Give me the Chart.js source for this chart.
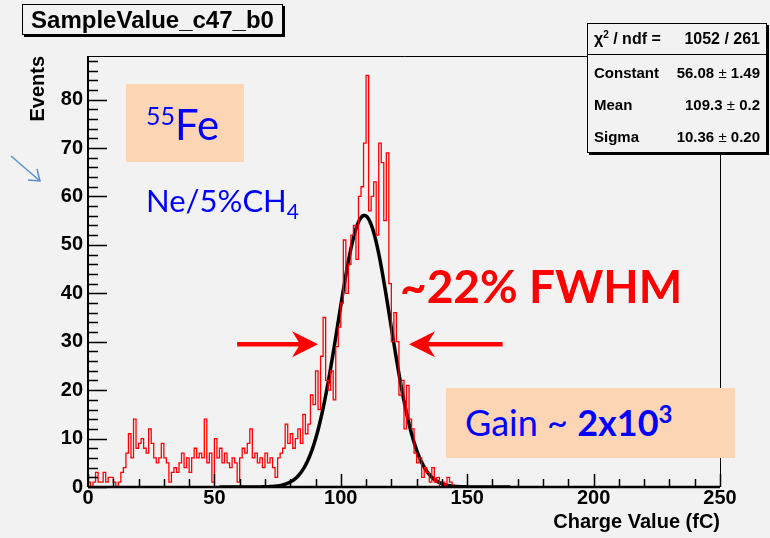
<!DOCTYPE html>
<html>
<head>
<meta charset="utf-8">
<script src="https://cdn.jsdelivr.net/npm/chart.js@4/dist/chart.umd.min.js"></script>
<style>
  body { margin: 0; background: #f2f2f2; }
  #wrap { position: relative; width: 770px; height: 538px; overflow: hidden; background: #f2f2f2; }
  #graph { position: absolute; left: 0; top: 0; }
  .root { position: absolute; font-family: "Liberation Sans", Arial, sans-serif; font-weight: bold; color: #000; }
  #title-box { left: 22px; top: 4px; width: 259px; height: 29px; border: 1px solid #000; box-shadow: 2px 2px 0 #000;
    background: #f2f2f2; font-size: 24px; line-height: 30px; text-align: center; }
  #stat-box { left: 587px; top: 23px; width: 178px; height: 128px; border: 1px solid #000; box-shadow: 2px 2px 0 #000;
    background: #f2f2f2; font-size: 15px; }
  #stat-box .sep { position: absolute; left: 0; right: 0; top: 30px; border-top: 1px solid #000; }
  .stat-row { position: absolute; left: 6px; right: 6px; display: flex; justify-content: space-between; line-height: 16px; }
  .slide { position: absolute; font-family: Lato, "Open Sans", sans-serif; color: #0000ff; white-space: nowrap; }
  .tan { position: absolute; background: #fcd5b4; }
  sup, sub { line-height: 0; }
  #overlay { position: absolute; left: 0; top: 0; }
</style>
</head>
<body>
<div id="wrap">
  <canvas id="graph" width="770" height="538"></canvas>

  <!-- ヒストグラム名 -->
  <div id="title-box" class="root"></div>

  <!-- フィット結果 -->
  <div id="stat-box" class="root">
    <div class="sep"></div>
  </div>

  <!-- 注記 -->
  <div class="tan" style="left:126px; top:84px; width:118px; height:78px;"></div>
  <div class="slide" style="left:146px; top:99px; font-size:42px;"><sup style="font-size:25px;">55</sup>Fe</div>
  <div class="slide" style="left:146px; top:181px; font-size:31px;">Ne/5%CH<sub style="font-size:21px;">4</sub></div>
  <div class="slide" style="left:400px; top:258px; font-size:46px; font-weight:bold; color:#ff0000;">~22% FWHM</div>
  <div class="tan" style="left:446px; top:388px; width:289px; height:70px;"></div>
  <div class="slide" style="left:465px; top:400px; font-size:36px;">Gain ~ <b>2x10<sup style="font-size:24px;">3</sup></b></div>

  <svg id="overlay" width="770" height="538">
    <line x1="11" y1="156" x2="40" y2="181" stroke="#5b8fd0" stroke-width="1.5"/>
    <polyline points="28,180 40,181 37,169" fill="none" stroke="#5b8fd0" stroke-width="1.5"/>
  </svg>
</div>

<script>
// ヒストグラム名
const histTitle = 'SampleValue_c47_b0';

// ビン幅 (fC)
const binWidth = 1;

// ビンの中身 (0 fC から 1 fC 刻み)
const counts = [
  1, 0, 1, 3, 1, 1, 3, 1, 2, 2,
  1, 0, 1, 3, 4, 7, 11, 6, 14, 8,
  9, 10, 8, 7, 12, 9, 6, 5, 6, 9,
  6, 5, 1, 3, 4, 3, 5, 7, 4, 6,
  3, 6, 8, 6, 7, 6, 14, 5, 7, 1,
  10, 6, 8, 5, 7, 5, 4, 6, 5, 1,
  6, 8, 7, 9, 12, 6, 7, 5, 6, 4,
  7, 5, 6, 4, 2, 6, 7, 8, 13, 9,
  11, 8, 10, 12, 9, 15, 11, 13, 19, 17,
  24, 16, 27, 35, 22, 20, 24, 18, 29, 33,
  38, 51, 40, 46, 52, 54, 47, 60, 62, 71,
  85, 57, 60, 63, 52, 71, 67, 55, 69, 42,
  30, 36, 30, 19, 22, 12, 21, 14, 12, 7,
  5, 6, 2, 4, 3, 1, 4, 1, 2, 0,
  1, 0, 2, 1, 0, 0, 0, 0, 0, 0
];

// 軸の範囲
const xMin = 0;
const xMax = 250;
const yMax = 89;

// 目盛り
const xTicks = [0, 50, 100, 150, 200, 250];
const yTicks = [0, 10, 20, 30, 40, 50, 60, 70, 80];

// ガウスフィットの結果
const fitConstant = 56.08;
const fitMean = 109.3;
const fitSigma = 10.36;
const fitErrors = ['1.49', '0.2', '0.20'];
const fitRange = [52, 167];
const chi2 = 1052;
const ndf = 261;

// FWHM 矢印 (高さ, 左右の先端, 左右の根元)
const arrowY = 29.5;
const arrowTips = [91, 127];
const arrowTails = [59, 164];

// ステータスボックス
const statNames = ['Constant', 'Mean', 'Sigma'];
const statValues = [fitConstant.toFixed(2), fitMean.toFixed(1), fitSigma.toFixed(2)];

/*
  ヒストグラムの点 (段差描画用)
*/
let histPoints = [];
for (let i = 0; i < counts.length; i++) {
  histPoints.push({x: xMin + i * binWidth, y: counts[i]});
}
histPoints.push({x: xMax, y: 0});

/*
  フィット関数の点
*/
let fitPoints = [];
for (let x = fitRange[0]; x <= fitRange[1]; x += 0.5) {
  let t = (x - fitMean) / fitSigma;
  fitPoints.push({x: x, y: fitConstant * Math.exp(-0.5 * t * t)});
}

/*
  文字の設定
*/
document.getElementById('title-box').textContent = histTitle;
let statBox = document.getElementById('stat-box');
let rowTop = [7, 41, 73, 105];
let chiRow = document.createElement('div');
chiRow.className = 'stat-row';
chiRow.style.top = rowTop[0] + 'px';
chiRow.style.fontSize = '16px';
chiRow.innerHTML = '<span>\u03c7<sup style="font-size:10px;">2</sup> / ndf = </span><span>' + chi2 + ' / ' + ndf + '</span>';
statBox.appendChild(chiRow);
for (let i = 0; i < statNames.length; i++) {
  let row = document.createElement('div');
  row.className = 'stat-row';
  row.style.top = rowTop[i + 1] + 'px';
  row.innerHTML = '<span>' + statNames[i] + '</span><span>' + statValues[i] +
    '<span style="font-weight:normal;"> \u00b1 </span>' + fitErrors[i] + '</span>';
  statBox.appendChild(row);
}

/*
  枠と目盛り、矢印
*/
const rootFrame = {
  id: 'rootFrame',
  afterDatasetsDraw(chart) {
    const ctx = chart.ctx;
    const area = chart.chartArea;
    const xs = chart.scales.x;
    const ys = chart.scales.y;
    ctx.save();
    ctx.strokeStyle = '#000';

    // 上と右の枠
    ctx.lineWidth = 1;
    ctx.beginPath();
    ctx.moveTo(area.left, area.top + 0.5);
    ctx.lineTo(area.right + 0.5, area.top + 0.5);
    ctx.lineTo(area.right + 0.5, area.bottom);
    ctx.stroke();

    // y 目盛り (2 刻み)
    ctx.lineWidth = 1.5;
    ctx.beginPath();
    for (let v = 0; v <= yMax; v += 2) {
      let py = Math.round(ys.getPixelForValue(v)) + 0.5;
      let len = (v % 10 == 0) ? 19 : 10;
      ctx.moveTo(area.left, py);
      ctx.lineTo(area.left + len, py);
    }
    // x 目盛り (10 刻み)
    for (let v = xMin; v <= xMax; v += 10) {
      let px = Math.round(xs.getPixelForValue(v)) + 0.5;
      let len = (v % 50 == 0) ? 13 : 8;
      ctx.moveTo(px, area.bottom);
      ctx.lineTo(px, area.bottom - len);
    }
    ctx.stroke();

    // 軸
    ctx.lineWidth = 2;
    ctx.beginPath();
    ctx.moveTo(area.left, area.top);
    ctx.lineTo(area.left, area.bottom);
    ctx.stroke();
    ctx.lineWidth = 2.5;
    ctx.beginPath();
    ctx.moveTo(area.left, area.bottom);
    ctx.lineTo(area.right, area.bottom);
    ctx.stroke();

    // FWHM 矢印
    ctx.strokeStyle = '#ff0000';
    ctx.fillStyle = '#ff0000';
    let ay = ys.getPixelForValue(arrowY);
    for (let i = 0; i < 2; i++) {
      let tip = xs.getPixelForValue(arrowTips[i]);
      let tail = xs.getPixelForValue(arrowTails[i]);
      let dir = tip > tail ? 1 : -1;
      ctx.lineWidth = 4.5;
      ctx.beginPath();
      ctx.moveTo(tail, ay);
      ctx.lineTo(tip - dir * 12, ay);
      ctx.stroke();
      ctx.beginPath();
      ctx.moveTo(tip, ay);
      ctx.lineTo(tip - dir * 26, ay - 13);
      ctx.lineTo(tip - dir * 18, ay);
      ctx.lineTo(tip - dir * 26, ay + 13);
      ctx.closePath();
      ctx.fill();
    }
    ctx.restore();
  }
};

const rootFont = {family: '"Liberation Sans", Arial, sans-serif', size: 20, weight: 'bold'};

new Chart(document.getElementById('graph'), {
  type: 'line',
  data: {
    datasets: [{
      // ヒストグラム
      label: histTitle,
      data: histPoints,
      stepped: 'before',
      borderColor: '#ff0000',
      borderWidth: 1.3,
      pointRadius: 0,
      fill: false
    }, {
      // ガウスフィット
      label: 'gaus',
      data: fitPoints,
      borderColor: '#000000',
      borderWidth: 3.5,
      pointRadius: 0,
      tension: 0,
      fill: false
    }]
  },
  options: {
    responsive: false,
    animation: false,
    devicePixelRatio: 1,
    layout: {padding: {left: 0, top: 56, right: 50, bottom: 0}},
    plugins: {legend: {display: false}, tooltip: {enabled: false}},
    scales: {
      x: {
        type: 'linear',
        min: xMin,
        max: xMax,
        afterBuildTicks: s => { s.ticks = xTicks.map(v => ({value: v})); },
        afterFit: s => { s.height = 51; },
        grid: {display: false},
        border: {display: false},
        ticks: {color: '#000', padding: -9, maxRotation: 0, font: rootFont},
        title: {display: true, text: 'Charge Value (fC)', align: 'end', color: '#000',
          font: rootFont, padding: {top: 0, bottom: 4}}
      },
      y: {
        type: 'linear',
        min: 0,
        max: yMax,
        afterBuildTicks: s => { s.ticks = yTicks.map(v => ({value: v})); },
        afterFit: s => { s.width = 88; },
        grid: {display: false},
        border: {display: false},
        ticks: {color: '#000', padding: -3, font: rootFont},
        title: {display: true, text: 'Events', align: 'end', color: '#000',
          font: rootFont, padding: {top: 26, bottom: 0}}
      }
    }
  },
  plugins: [rootFrame]
});
</script>
</body>
</html>
